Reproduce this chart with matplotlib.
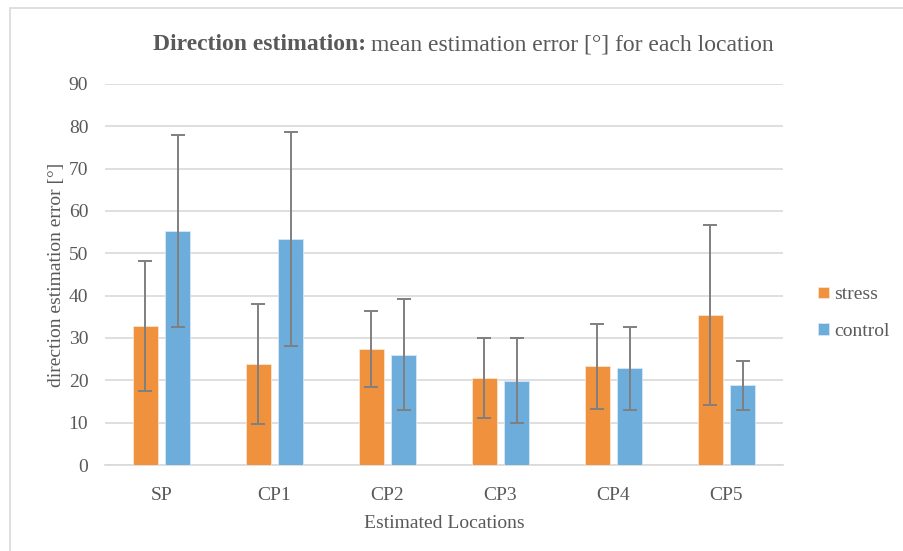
import numpy as np
import matplotlib.pyplot as plt
from matplotlib.patches import Rectangle

# Valores (media y desviación de cada grupo)
locations = ['SP', 'CP1', 'CP2', 'CP3', 'CP4', 'CP5']
stress_mean = [32.8, 23.9, 27.4, 20.6, 23.3, 35.4]
stress_err = [15.4, 14.2, 9.0, 9.4, 10.0, 21.3]
control_mean = [55.3, 53.4, 26.1, 19.9, 22.8, 18.8]
control_err = [22.6, 25.3, 13.2, 10.0, 9.9, 5.7]

orange = '#F0913D'
blue = '#6CADDB'
gray_txt = '#595959'

plt.rcParams['font.family'] = ['Liberation Serif', 'DejaVu Serif']

fig = plt.figure(figsize=(9.04, 5.51), dpi=100)
# marco gris claro del gráfico (solo se ven los bordes izquierdo y superior)
fig.patches.append(Rectangle((10 / 904, -0.1), 1.5, 1 - 8 / 551 + 0.1,
                             transform=fig.transFigure, fill=False,
                             edgecolor='#D9D9D9', linewidth=1.2))
ax = fig.add_axes([105 / 904, 1 - 465 / 551, 678 / 904, 381 / 551])

x = np.arange(len(locations))
w = 0.22
err_kw = dict(ecolor='#7F7F7F', elinewidth=1.4, capsize=5, capthick=1.4)
ax.bar(x - 0.145, stress_mean, w, yerr=stress_err, color=orange,
       edgecolor='#FCE3CF', linewidth=0.6, label='stress', error_kw=err_kw, zorder=3)
ax.bar(x + 0.145, control_mean, w, yerr=control_err, color=blue,
       edgecolor='#D6E8F6', linewidth=0.6, label='control', error_kw=err_kw, zorder=3)

ax.set_xlim(-0.5, len(locations) - 0.5)
ax.set_ylim(0, 90)
ax.set_yticks(np.arange(0, 91, 10))
ax.set_xticks(x)
ax.set_xticklabels(locations)
ax.yaxis.grid(True, color='#D9D9D9', linewidth=1.2, zorder=0)
ax.set_axisbelow(True)
for s in ['top', 'right', 'left']:
    ax.spines[s].set_visible(False)
ax.spines['bottom'].set_color('#D9D9D9')
ax.spines['bottom'].set_linewidth(1.2)
ax.tick_params(length=0, labelsize=14, colors=gray_txt)
ax.tick_params(axis='y', pad=12)
ax.tick_params(axis='x', pad=16)

ax.set_xlabel('Estimated Locations', fontsize=14, color=gray_txt, labelpad=8)
ax.set_ylabel('direction estimation error [°]', fontsize=14, color=gray_txt, labelpad=3)

# título: parte en negrita y parte normal, centrado en conjunto
ty = 1 - 45 / 551
t1 = fig.text(0, ty, 'Direction estimation:', fontsize=17,
              fontweight='bold', color=gray_txt, va='center', ha='left')
t2 = fig.text(0, ty, 'mean estimation error [°] for each location',
              fontsize=17, color=gray_txt, va='center', ha='left')
fig.canvas.draw()
w1 = t1.get_window_extent().width
w2 = t2.get_window_extent().width
gap = 5
x0 = 463 - (w1 + gap + w2) / 2
t1.set_x(x0 / 904)
t2.set_x((x0 + w1 + gap) / 904)

leg = fig.legend(loc='center left', bbox_to_anchor=(801 / 904, 1 - 313 / 551),
                 frameon=False, prop={'family': 'Liberation Serif', 'size': 14},
                 handlelength=0.55, handleheight=0.55,
                 handletextpad=0.25, labelspacing=1.0, labelcolor=gray_txt)

fig.savefig('out.png', dpi=100)
